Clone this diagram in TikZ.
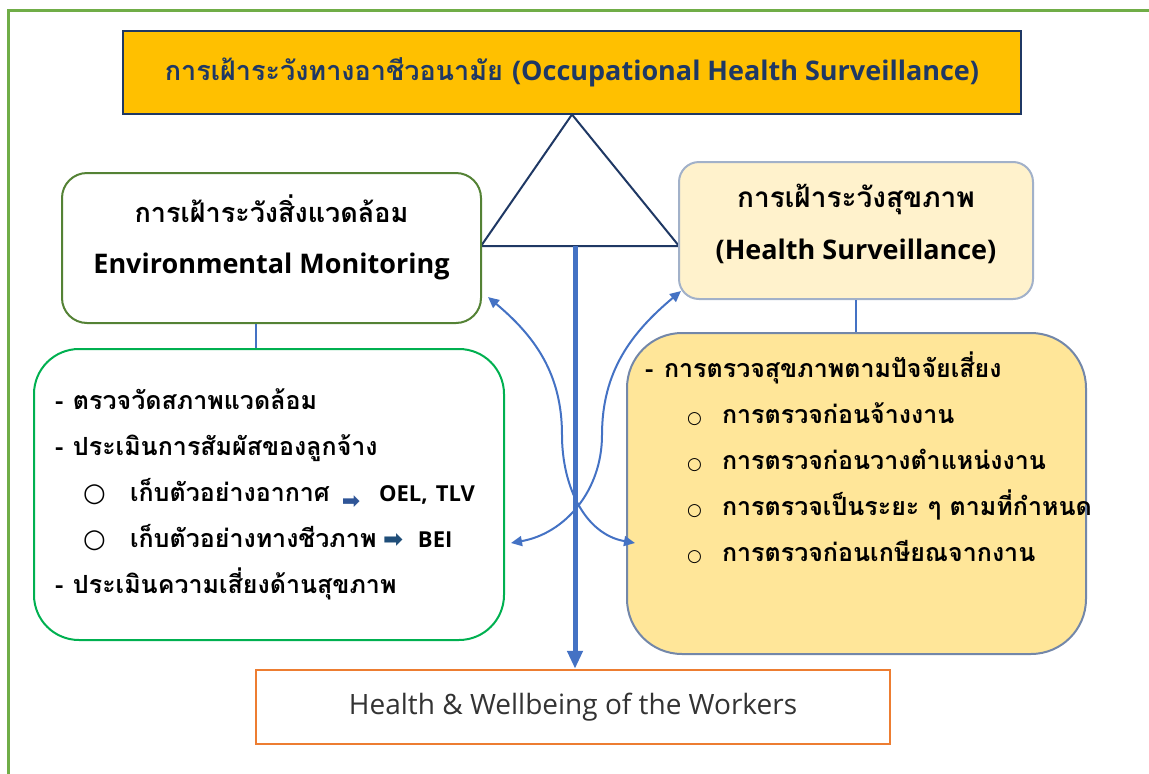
\documentclass[tikz,border=0pt]{standalone}
\usepackage{fontspec}
\setmainfont{Loma}[Script=Thai]
\newfontfamily\latinfont{Open Sans}
\newfontfamily\symfont{DejaVu Sans}
\usetikzlibrary{arrows.meta,positioning}
\setlength{\parindent}{0pt}

\definecolor{framegreen}{HTML}{70AD47}
\definecolor{gold}{HTML}{FFC000}
\definecolor{navy}{HTML}{1F3864}
\definecolor{olive}{HTML}{548235}
\definecolor{brightgreen}{HTML}{00B050}
\definecolor{linkblue}{HTML}{4472C4}
\definecolor{paleyellow}{HTML}{FFF2CC}
\definecolor{hsborder}{HTML}{A2B1C9}
\definecolor{lightgold}{HTML}{FFE699}
\definecolor{slate}{HTML}{7387A9}
\definecolor{wellorange}{HTML}{ED7D31}
\definecolor{arrowblue}{HTML}{2F5597}
\definecolor{arrowteal}{HTML}{1F4E79}

\newcommand{\bul}{{\symfont\fontsize{26}{26}\selectfont ○}}
\newcommand{\smallbul}{{\symfont\fontsize{17}{17}\selectfont ○}}
\newcommand{\lat}[1]{{\latinfont\fontsize{22}{22}\selectfont #1}}

\begin{document}
\begin{tikzpicture}
[x=1pt,y=-1pt,
every node/.style={inner sep=0pt},
titlebox/.style={draw=navy,line width=2pt,fill=gold,text=navy,
  minimum width=898pt,minimum height=83pt,font=\bfseries\fontsize{27}{32}\selectfont},
envbox/.style={draw=olive,line width=2pt,fill=white,rounded corners=25pt,
  minimum width=419pt,minimum height=150pt,align=center,text depth=28pt,
  font=\bfseries\fontsize{27}{51}\selectfont},
envlistbox/.style={draw=brightgreen,line width=2pt,fill=white,rounded corners=45pt,
  text width=440pt,inner xsep=15pt,minimum height=291pt,align=left,
  font=\bfseries\fontsize{25}{46}\selectfont},
hsbox/.style={draw=hsborder,line width=2pt,fill=paleyellow,rounded corners=20pt,
  minimum width=354pt,minimum height=137pt,align=center,text depth=18pt,
  font=\bfseries\fontsize{28}{52}\selectfont},
hslistbox/.style={draw=slate,line width=2pt,fill=lightgold,rounded corners=55pt,
  inner xsep=21pt,inner ysep=10.5pt,font=\bfseries\fontsize{25}{46}\selectfont},
wellbox/.style={draw=wellorange,line width=2.5pt,fill=white,text=black!80,
  minimum width=634pt,minimum height=74pt,font=\latinfont\fontsize{28}{32}\selectfont},
tie/.style={draw=linkblue,line width=2pt},
link/.style={draw=linkblue,line width=2pt,{Triangle[length=11pt,width=10pt]}-{Triangle[length=11pt,width=10pt]}},
mainarrow/.style={draw=linkblue,line width=5pt,-{Triangle[length=18pt,width=15pt]}}]

\useasboundingbox (0,0) rectangle (1149,774);
\draw[framegreen,line width=3pt] (8,10) rectangle (1190,810);

% top
\node[titlebox] (title) at (572,72) {การเฝ้าระวังทางอาชีวอนามัย \lat{\fontsize{27}{29}\selectfont(Occupational Health Surveillance)}};
\coordinate (tl) at (481,246);
\coordinate (tr) at (679,246);
\coordinate (base) at (575,246);
\draw[navy,line width=2pt,fill=white,line join=miter] (title.south) -- (tr) -- (tl) -- cycle;

% left side
\node[envbox] (env) at (271.5,248) {การเฝ้าระวังสิ่งแวดล้อม\\\lat{\fontsize{27}{27}\selectfont Environmental Monitoring}};
\node[envlistbox] (envlist) at (269,494.5) {%
\hspace*{6pt}\makebox[18pt][l]{-}ตรวจวัดสภาพแวดล้อม\\
\hspace*{6pt}\makebox[18pt][l]{-}ประเมินการสัมผัสของลูกจ้าง\\
\hspace*{34pt}\makebox[47pt][l]{\bul}\makebox[212pt][l]{เก็บตัวอย่างอากาศ}\makebox[37pt][l]{\raisebox{-7pt}{\textcolor{arrowblue}{\symfont\fontsize{22}{22}\selectfont ➡}}}\lat{OEL, TLV}\\
\hspace*{34pt}\makebox[47pt][l]{\bul}\makebox[253pt][l]{เก็บตัวอย่างทางชีวภาพ}\makebox[35pt][l]{\textcolor{arrowteal}{\symfont\fontsize{24}{24}\selectfont ➡}}\lat{BEI}\\
\hspace*{6pt}\makebox[18pt][l]{-}ประเมินความเสี่ยงด้านสุขภาพ};
\draw[tie] ([xshift=-16pt]env.south) -- ([xshift=-16pt]env.south |- envlist.north);

% right side
\node[hsbox] (hs) at (856,230.5) {การเฝ้าระวังสุขภาพ\\\lat{\fontsize{27}{27}\selectfont(Health Surveillance)}};
\node[hslistbox] (hslist) at (856.5,493.5) {\parbox[c][300pt][t]{417pt}{%
\vspace*{8pt}\mbox{\hspace*{-3pt}\makebox[19pt][l]{-}การตรวจสุขภาพตามปัจจัยเสี่ยง}\\
\mbox{\hspace*{39pt}\makebox[35pt][l]{\smallbul}การตรวจก่อนจ้างงาน}\\
\mbox{\hspace*{39pt}\makebox[35pt][l]{\smallbul}การตรวจก่อนวางตำแหน่งงาน}\\
\mbox{\hspace*{39pt}\makebox[35pt][l]{\smallbul}การตรวจเป็นระยะ ๆ ตามที่กำหนด}\\
\mbox{\hspace*{39pt}\makebox[35pt][l]{\smallbul}การตรวจก่อนเกษียณจากงาน}}};
\draw[tie] (hs.south) -- (hs.south |- hslist.north);

% bottom
\node[wellbox] (well) at (573,707) {Health \& Wellbeing of the Workers};
\draw[link] ([xshift=6pt,yshift=27pt]env.south east) to[out=-40,in=90] (562,435)
  to[out=-90,in=170] ([xshift=9pt,yshift=-49.5pt]hslist.west);
\draw[link] ([xshift=3pt,yshift=9pt]hs.south west) to[out=-140,in=90] (602,435)
  to[out=-90,in=10] ([xshift=6pt,yshift=-48.5pt]envlist.east);
\draw[mainarrow] (base) -- (base |- well.north);
\end{tikzpicture}
\end{document}
